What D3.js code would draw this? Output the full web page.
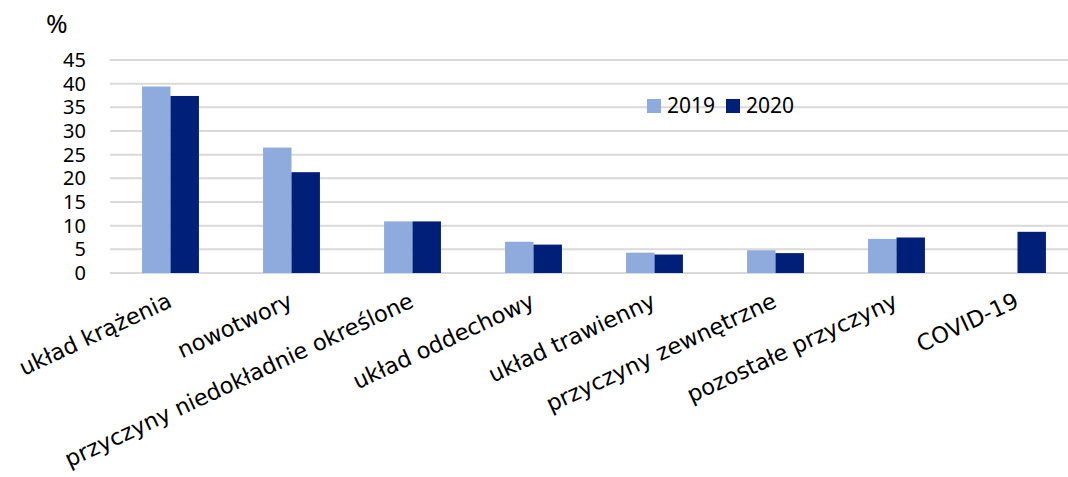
<!DOCTYPE html>
<html>
<head>
<meta charset="utf-8">
<script src="https://cdn.jsdelivr.net/npm/d3@7"></script>
<style>
  body { margin: 0; background: #fff; }
  svg { display: block; }
</style>
</head>
<body>
<svg id="chart" width="1068" height="477"></svg>
<script>
// dane
const categories = ['układ krążenia', 'nowotwory', 'przyczyny niedokładnie określone', 'układ oddechowy',
  'układ trawienny', 'przyczyny zewnętrzne', 'pozostałe przyczyny', 'COVID-19'];
const years = ['2019', '2020'];
const values2019 = [39.4, 26.5, 10.9, 6.6, 4.3, 4.8, 7.2, null];
const values2020 = [37.4, 21.3, 10.9, 6.0, 3.9, 4.2, 7.5, 8.7];
const yTicks = [0, 5, 10, 15, 20, 25, 30, 35, 40, 45];

const colors = { '2019': '#8faadc', '2020': '#001f78' };

const svg = d3.select('#chart');
const margin = { left: 110, right: -10, top: 60, bottom: 204 };
const width = 1068 - margin.left - margin.right;
const height = 477 - margin.top - margin.bottom;

const g = svg.append('g').attr('transform', `translate(${margin.left},${margin.top})`);

const x = d3.scaleBand().domain(categories).range([0, width]).paddingInner(0.53).paddingOuter(0.265);
const xs = d3.scaleBand().domain(years).range([0, x.bandwidth()]);
const y = d3.scaleLinear().domain([0, 45]).range([height, 0]);

// siatka
g.append('g')
  .selectAll('line')
  .data(yTicks)
  .enter().append('line')
  .attr('x1', 0)
  .attr('x2', width)
  .attr('y1', d => y(d))
  .attr('y2', d => y(d))
  .attr('stroke', '#d9d9d9')
  .attr('stroke-width', 2);

// oś Y
const yAxis = g.append('g')
  .call(d3.axisLeft(y).tickValues(yTicks).tickSize(0).tickPadding(24));
yAxis.select('.domain').remove();
yAxis.selectAll('text')
  .style('font-family', '"Noto Sans", sans-serif')
  .style('font-size', '20px')
  .attr('fill', '#000');

svg.append('text')
  .attr('x', 46)
  .attr('y', 33)
  .style('font-family', '"Noto Sans", sans-serif')
  .style('font-size', '26px')
  .text('%');

// słupki
const series = years.map(yr => ({ year: yr, vals: yr === '2019' ? values2019 : values2020 }));
series.forEach(s => {
  g.append('g')
    .selectAll('rect')
    .data(categories.map((c, i) => ({ cat: c, v: s.vals[i] })).filter(d => d.v != null))
    .enter().append('rect')
    .attr('x', d => x(d.cat) + xs(s.year))
    .attr('y', d => y(d.v))
    .attr('width', xs.bandwidth())
    .attr('height', d => y(0) - y(d.v))
    .attr('fill', colors[s.year]);
});

// etykiety kategorii
g.append('g')
  .selectAll('text')
  .data(categories)
  .enter().append('text')
  .attr('transform', d => `translate(${x(d) + x.bandwidth() / 2 - 4},${height + 19}) rotate(-25)`)
  .attr('text-anchor', 'end')
  .attr('dy', '0.7em')
  .style('font-family', '"DejaVu Sans", sans-serif')
  .style('font-size', '22.5px')
  .text(d => d);

// legenda
const legend = svg.append('g').attr('transform', 'translate(647,99)');
const legendItems = legend.selectAll('g')
  .data(years)
  .enter().append('g')
  .attr('transform', (d, i) => `translate(${i * 79},0)`);
legendItems.append('rect')
  .attr('width', 14)
  .attr('height', 14)
  .attr('fill', d => colors[d]);
legendItems.append('text')
  .attr('x', 20)
  .attr('y', 14)
  .style('font-family', '"Noto Sans", sans-serif')
  .style('font-size', '21px')
  .text(d => d);
</script>
</body>
</html>
